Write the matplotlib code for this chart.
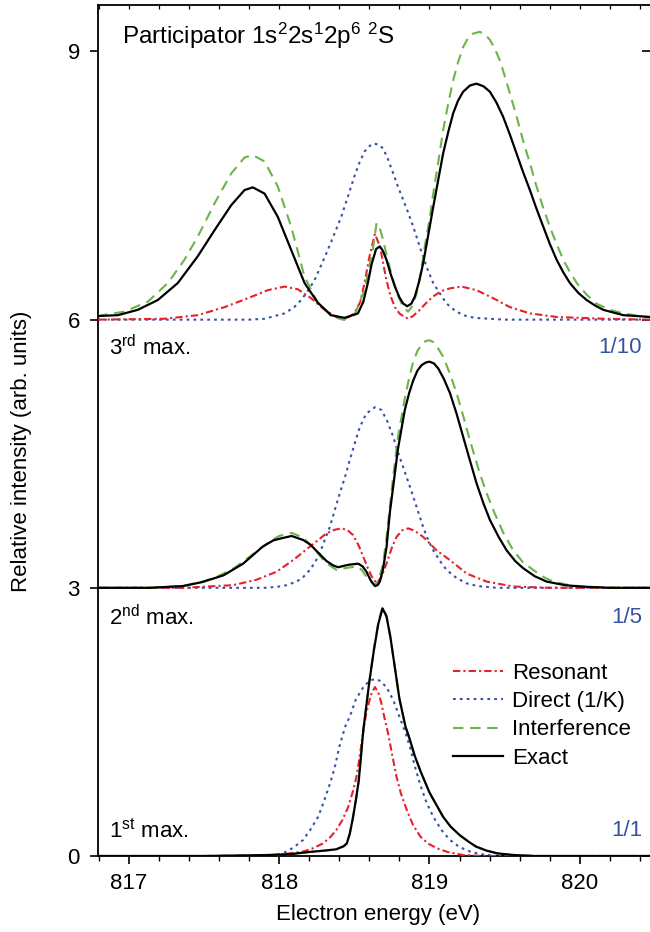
import matplotlib
matplotlib.use("Agg")
import matplotlib.pyplot as plt

plt.rcParams["font.family"] = ["Liberation Sans", "DejaVu Sans"]
plt.rcParams["mathtext.default"] = "regular"

# Vertical offsets of the three stacked spectra (1st, 2nd, 3rd max.)
offsets = [0, 3, 6]
panel_labels = ["1$^{st}$ max.", "2$^{nd}$ max.", "3$^{rd}$ max."]
scale_labels = ["1/1", "1/5", "1/10"]

# ---- 1st maximum ----
exact1_x = [816.8, 817.5, 817.9, 818.0, 818.1, 818.2, 818.3, 818.38, 818.43, 818.45, 818.47, 818.49,
            818.51, 818.53, 818.56, 818.60, 818.63, 818.66, 818.688, 818.714, 818.74, 818.76, 818.80,
            818.84, 818.87, 818.90, 818.94, 819.00, 819.05, 819.09, 819.14, 819.20, 819.26, 819.31,
            819.38, 819.45, 819.55, 819.7, 820.47]
exact1_y = [0, 0, 0.01, 0.015, 0.025, 0.045, 0.06, 0.075, 0.11, 0.14, 0.25, 0.42,
            0.62, 0.85, 1.41, 1.95, 2.30, 2.60, 2.77, 2.68, 2.45, 2.22, 1.76,
            1.45, 1.30, 1.13, 0.95, 0.71, 0.56, 0.44, 0.33, 0.235, 0.16, 0.105,
            0.06, 0.03, 0.012, 0.0, 0.0]
interf1_x = exact1_x
interf1_y = [0, 0, 0.01, 0.015, 0.025, 0.045, 0.06, 0.075, 0.11, 0.14, 0.25, 0.42,
             0.62, 0.85, 1.41, 1.95, 2.31, 2.62, 2.79, 2.69, 2.45, 2.22, 1.76,
             1.45, 1.30, 1.13, 0.95, 0.71, 0.56, 0.44, 0.33, 0.235, 0.16, 0.105,
             0.06, 0.03, 0.012, 0.0, 0.0]
reson1_x = [816.8, 817.8, 817.95, 818.05, 818.16, 818.23, 818.29, 818.34, 818.38, 818.42, 818.46,
            818.49, 818.515, 818.53, 818.548, 818.565, 818.58, 818.61, 818.637, 818.66, 818.68,
            818.70, 818.725, 818.75, 818.78, 818.81, 818.85, 818.89, 818.94, 818.99, 819.05, 819.12,
            819.22, 819.35, 820.47]
reson1_y = [0, 0, 0.01, 0.025, 0.05, 0.09, 0.14, 0.21, 0.29, 0.40, 0.55,
            0.72, 0.89, 1.05, 1.26, 1.45, 1.60, 1.80, 1.89, 1.83, 1.71,
            1.55, 1.37, 1.15, 0.89, 0.70, 0.51, 0.35, 0.216, 0.14, 0.086, 0.045,
            0.012, 0, 0]
direct1_x = [816.8, 817.9, 818.0, 818.05, 818.10, 818.16, 818.21, 818.26, 818.30, 818.34, 818.37,
             818.40, 818.44, 818.47, 818.51, 818.56, 818.60, 818.637, 818.67, 818.714, 818.76,
             818.80, 818.84, 818.87, 818.90, 818.936, 818.98, 819.025, 819.08, 819.136, 819.20,
             819.27, 819.34, 819.45, 820.47]
direct1_y = [0, 0, 0.02, 0.05, 0.10, 0.18, 0.30, 0.44, 0.62, 0.82, 0.99,
             1.22, 1.45, 1.56, 1.75, 1.89, 1.96, 1.98, 1.96, 1.89, 1.74,
             1.56, 1.38, 1.22, 1.02, 0.81, 0.60, 0.44, 0.29, 0.18, 0.10,
             0.05, 0.02, 0, 0]

# ---- 2nd maximum ----
exact2_x = [816.8, 817.14, 817.36, 817.49, 817.63, 817.76, 817.89, 817.96, 818.005, 818.083, 818.16,
            818.21, 818.25, 818.315, 818.36, 818.393, 818.44, 818.47, 818.526, 818.555, 818.581,
            818.61, 818.637, 818.655, 818.67, 818.69, 818.714, 818.737, 818.76, 818.79, 818.836,
            818.865, 818.892, 818.92, 818.947, 818.975, 819.0, 819.03, 819.058, 819.095, 819.136,
            819.18, 819.224, 819.27, 819.313, 819.36, 819.402, 819.46, 819.513, 819.57, 819.623,
            819.70, 819.779, 819.9, 820.0, 820.2, 820.47]
exact2_y = [0, 0, 0.02, 0.065, 0.14, 0.27, 0.46, 0.53, 0.55, 0.58, 0.535,
            0.48, 0.41, 0.30, 0.25, 0.23, 0.25, 0.26, 0.27, 0.24, 0.18,
            0.08, 0.02, 0.03, 0.07, 0.2, 0.45, 0.85, 1.15, 1.55, 1.99,
            2.18, 2.32, 2.43, 2.49, 2.52, 2.53, 2.51, 2.455, 2.34, 2.18,
            1.95, 1.69, 1.42, 1.17, 0.94, 0.76, 0.57, 0.42, 0.30, 0.22,
            0.13, 0.07, 0.03, 0.015, 0, 0]
interf2_x = [816.8, 817.14, 817.36, 817.49, 817.583, 817.70, 817.805, 817.938, 818.0, 818.083, 818.16,
             818.21, 818.25, 818.31, 818.382, 818.44, 818.515, 818.55, 818.59, 818.637, 818.66,
             818.692, 818.72, 818.759, 818.79, 818.836, 818.865, 818.892, 818.92, 818.947, 818.975,
             819.0, 819.025, 819.05, 819.091, 819.135, 819.18, 819.225, 819.269, 819.335, 819.38,
             819.424, 819.49, 819.557, 819.62, 819.69, 819.76, 819.823, 819.93, 820.06, 820.3, 820.47]
interf2_y = [0, 0, 0.02, 0.07, 0.12, 0.22, 0.35, 0.52, 0.58, 0.615, 0.56,
             0.48, 0.40, 0.28, 0.20, 0.22, 0.24, 0.20, 0.10, 0.03, 0.08,
             0.27, 0.65, 1.25, 1.68, 2.12, 2.35, 2.53, 2.65, 2.72, 2.76,
             2.77, 2.75, 2.70, 2.585, 2.40, 2.18, 1.92, 1.65, 1.28, 1.06,
             0.87, 0.62, 0.42, 0.29, 0.20, 0.12, 0.07, 0.03, 0.01, 0, 0]
reson2_x = [816.8, 817.36, 817.694, 817.849, 817.983, 818.093, 818.204, 818.315, 818.37, 818.415,
            818.455, 818.492, 818.53, 818.559, 818.59, 818.615, 818.648, 818.68, 818.714, 818.75,
            818.781, 818.82, 818.858, 818.9, 818.958, 819.047, 819.136, 819.247, 819.38, 819.557,
            819.8, 820.47]
reson2_y = [0, 0, 0.03, 0.09, 0.18, 0.31, 0.46, 0.61, 0.65, 0.665,
            0.645, 0.59, 0.47, 0.35, 0.22, 0.13, 0.05, 0.12, 0.27, 0.45,
            0.57, 0.645, 0.665, 0.64, 0.57, 0.42, 0.31, 0.16, 0.07, 0.015,
            0, 0]
direct2_x = [816.8, 817.9, 817.983, 818.05, 818.116, 818.16, 818.204, 818.24, 818.271, 818.30,
             818.337, 818.37, 818.404, 818.44, 818.47, 818.50, 818.537, 818.58, 818.637, 818.681,
             818.72, 818.759, 818.79, 818.825, 818.86, 818.892, 818.925, 818.958, 818.99, 819.025,
             819.07, 819.114, 819.18, 819.247, 819.32, 819.45, 820.47]
direct2_y = [0, 0, 0.01, 0.03, 0.07, 0.12, 0.20, 0.29, 0.39, 0.52,
             0.68, 0.87, 1.06, 1.25, 1.43, 1.60, 1.80, 1.95, 2.02, 1.99,
             1.86, 1.69, 1.52, 1.35, 1.18, 1.02, 0.85, 0.68, 0.54, 0.42,
             0.30, 0.20, 0.11, 0.05, 0.02, 0, 0]

# ---- 3rd maximum ----
exact3_x = [816.79, 816.927, 817.06, 817.193, 817.326, 817.459, 817.57, 817.681, 817.77, 817.825,
            817.903, 817.991, 818.08, 818.169, 818.257, 818.346, 818.435, 818.524, 818.56, 818.59,
            818.615, 818.645, 818.670, 818.69, 818.714, 818.74, 818.77, 818.80, 818.825, 818.852,
            818.88, 818.903, 818.93, 818.958, 818.99, 819.025, 819.06, 819.091, 819.125, 819.158,
            819.19, 819.224, 819.27, 819.313, 819.36, 819.402, 819.445, 819.490, 819.535, 819.579,
            819.623, 819.668, 819.71, 819.757, 819.80, 819.846, 819.89, 819.934, 819.99, 820.045,
            820.1, 820.156, 820.29, 820.47]
exact3_y = [0.04, 0.05, 0.11, 0.22, 0.41, 0.71, 1.00, 1.28, 1.45, 1.48,
            1.41, 1.15, 0.78, 0.41, 0.19, 0.05, 0.02, 0.07, 0.2, 0.41,
            0.62, 0.79, 0.82, 0.77, 0.67, 0.52, 0.37, 0.25, 0.18, 0.15,
            0.18, 0.26, 0.42, 0.63, 0.93, 1.26, 1.58, 1.86, 2.10, 2.31,
            2.45, 2.55, 2.62, 2.64, 2.61, 2.55, 2.43, 2.27, 2.07, 1.86,
            1.65, 1.45, 1.25, 1.04, 0.85, 0.67, 0.53, 0.41, 0.30, 0.22,
            0.16, 0.11, 0.05, 0.03]
interf3_x = [816.79, 816.97, 817.126, 817.26, 817.37, 817.459, 817.57, 817.681, 817.77, 817.825,
             817.903, 817.991, 818.08, 818.169, 818.257, 818.346, 818.424, 818.50, 818.568, 818.60,
             818.623, 818.648, 818.67, 818.692, 818.72, 818.759, 818.79, 818.825, 818.858, 818.885,
             818.914, 818.94, 818.969, 819.0, 819.025, 819.06, 819.091, 819.125, 819.158, 819.19,
             819.224, 819.26, 819.29, 819.335, 819.37, 819.402, 819.435, 819.468, 819.50, 819.535,
             819.58, 819.623, 819.67, 819.712, 819.755, 819.80, 819.845, 819.89, 819.935, 819.98,
             820.045, 820.11, 820.2, 820.29, 820.47]
interf3_y = [0.04, 0.09, 0.20, 0.41, 0.67, 0.93, 1.30, 1.635, 1.815, 1.84,
             1.77, 1.49, 1.04, 0.48, 0.19, 0.04, 0.0, 0.05, 0.33, 0.6,
             0.78, 1.08, 1.02, 0.89, 0.68, 0.44, 0.27, 0.14, 0.09, 0.15,
             0.29, 0.5, 0.82, 1.12, 1.41, 1.78, 2.12, 2.42, 2.68, 2.88,
             3.05, 3.16, 3.20, 3.22, 3.19, 3.13, 3.03, 2.90, 2.73, 2.53,
             2.27, 2.0, 1.74, 1.49, 1.26, 1.04, 0.85, 0.67, 0.53, 0.41,
             0.28, 0.18, 0.11, 0.07, 0.02]
reson3_x = [816.79, 817.237, 817.459, 817.637, 817.792, 817.925, 818.036, 818.124, 818.213, 818.302,
            818.39, 818.435, 818.50, 818.54, 818.568, 818.60, 818.637, 818.670, 818.69, 818.714,
            818.74, 818.77, 818.80, 818.825, 818.858, 818.89, 818.936, 818.98, 819.025, 819.08,
            819.136, 819.213, 819.313, 819.424, 819.535, 819.668, 819.846, 820.16, 820.47]
reson3_y = [0, 0.01, 0.05, 0.14, 0.24, 0.33, 0.37, 0.34, 0.24, 0.11,
            0.02, 0.0, 0.07, 0.2, 0.41, 0.7, 0.96, 0.82, 0.65, 0.44,
            0.27, 0.14, 0.07, 0.04, 0.01, 0.04, 0.11, 0.19, 0.26, 0.32,
            0.35, 0.37, 0.33, 0.24, 0.14, 0.07, 0.03, 0.01, 0]
direct3_x = [816.79, 817.8, 817.903, 818.036, 818.1, 818.147, 818.19, 818.235, 818.28, 818.324,
             818.37, 818.413, 818.46, 818.50, 818.535, 818.568, 818.6, 818.626, 818.66, 818.692,
             818.725, 818.759, 818.79, 818.825, 818.86, 818.892, 818.925, 818.958, 818.99, 819.025,
             819.07, 819.114, 819.17, 819.224, 819.3, 819.4, 819.5, 820.47]
direct3_y = [0, 0, 0.01, 0.07, 0.14, 0.22, 0.32, 0.44, 0.61, 0.78,
             0.97, 1.15, 1.39, 1.60, 1.76, 1.88, 1.94, 1.97, 1.96, 1.915,
             1.79, 1.635, 1.49, 1.34, 1.19, 1.04, 0.87, 0.70, 0.55, 0.41,
             0.29, 0.18, 0.10, 0.05, 0.02, 0.01, 0, 0]

panels = [
    dict(res=(reson1_x, reson1_y), dir=(direct1_x, direct1_y),
         intf=(interf1_x, interf1_y), exa=(exact1_x, exact1_y)),
    dict(res=(reson2_x, reson2_y), dir=(direct2_x, direct2_y),
         intf=(interf2_x, interf2_y), exa=(exact2_x, exact2_y)),
    dict(res=(reson3_x, reson3_y), dir=(direct3_x, direct3_y),
         intf=(interf3_x, interf3_y), exa=(exact3_x, exact3_y)),
]

RED = "#e8202a"
BLUE = "#3653a3"
GREEN = "#6cb44a"
LW = 1.5

styles = {
    "res": dict(color=RED, lw=LW, ls=(0, (3.5, 1.5, 1.0, 1.5)), label="Resonant", zorder=3),
    "dir": dict(color=BLUE, lw=LW, ls=(0, (1.3, 2.0)), label="Direct (1/K)", zorder=2),
    "intf": dict(color=GREEN, lw=LW, ls=(0, (5.0, 3.2)), label="Interference", zorder=4),
    "exa": dict(color="black", lw=1.6, ls="-", label="Exact", zorder=5),
}

fig = plt.figure(figsize=(6.5, 9.32), dpi=100)
ax = fig.add_axes([98 / 650, 1 - 856 / 932, 552 / 650, 851 / 932])

handles = {}
for off, pan in zip(offsets, panels):
    for key in ["dir", "res", "intf", "exa"]:
        xs, ys = pan[key]
        line, = ax.plot(xs, [v + off for v in ys], **styles[key])
        handles[key] = line

ax.set_xlim(816.795, 820.467)
ax.set_ylim(0, 9.52)

FS = 16
ax.set_xticks([817, 818, 819, 820])
ax.set_xticks([816.8 + 0.2 * i for i in range(19)], minor=True)
ax.set_yticks([0, 3, 6, 9])
ax.tick_params(axis="both", which="major", labelsize=FS, width=1.2, length=6,
               direction="out")
ax.tick_params(axis="x", which="major", pad=6)
ax.tick_params(axis="y", which="major", pad=7)
ax.tick_params(axis="x", which="minor", width=1.0, length=3.8, direction="out")
ax.tick_params(axis="x", which="both", top=False)
ax.tick_params(axis="y", which="both", right=False)
for sp in ax.spines.values():
    sp.set_linewidth(1.3)
ax.spines["right"].set_visible(False)

# inward ticks on the top and right edges
secx = ax.secondary_xaxis("top")
secx.set_xticks([816.8 + 0.2 * i for i in range(19)])
secx.tick_params(direction="in", length=3, width=0.9, labeltop=False)
secx.spines["top"].set_visible(False)
secy = ax.secondary_yaxis("right")
secy.set_yticks([0, 3, 6, 9])
secy.tick_params(direction="in", length=5.5, width=1.2, labelright=False)
secy.spines["right"].set_visible(False)

ax.set_xlabel("Electron energy (eV)", fontsize=FS)
ax.xaxis.set_label_coords(0.507, -0.056)
ax.set_ylabel("Relative intensity (arb. units)", fontsize=FS)
ax.yaxis.set_label_coords(-0.12, 0.475)

ax.text(816.953, 9.09, "Participator 1s$^2$2s$^1$2p$^6$ $^2$S", fontsize=17.5,
        ha="left", va="baseline")

label_y = [0.29, 2.67, 5.69]
for off, txt, sc, ly in zip(offsets, panel_labels, scale_labels, label_y):
    ax.text(816.87, ly, txt, fontsize=FS, ha="left", va="center")
    ax.text(820.414, ly, sc, fontsize=FS, ha="right", va="center", color=BLUE)

leg = ax.legend([handles[k] for k in ["res", "dir", "intf", "exa"]],
                [styles[k]["label"] for k in ["res", "dir", "intf", "exa"]],
                loc="upper left", bbox_to_anchor=(0.644, 0.227), frameon=False,
                fontsize=FS, handlelength=2.25, handletextpad=0.4,
                labelspacing=0.33, borderpad=0, borderaxespad=0)

fig.savefig("out.png", dpi=100)
